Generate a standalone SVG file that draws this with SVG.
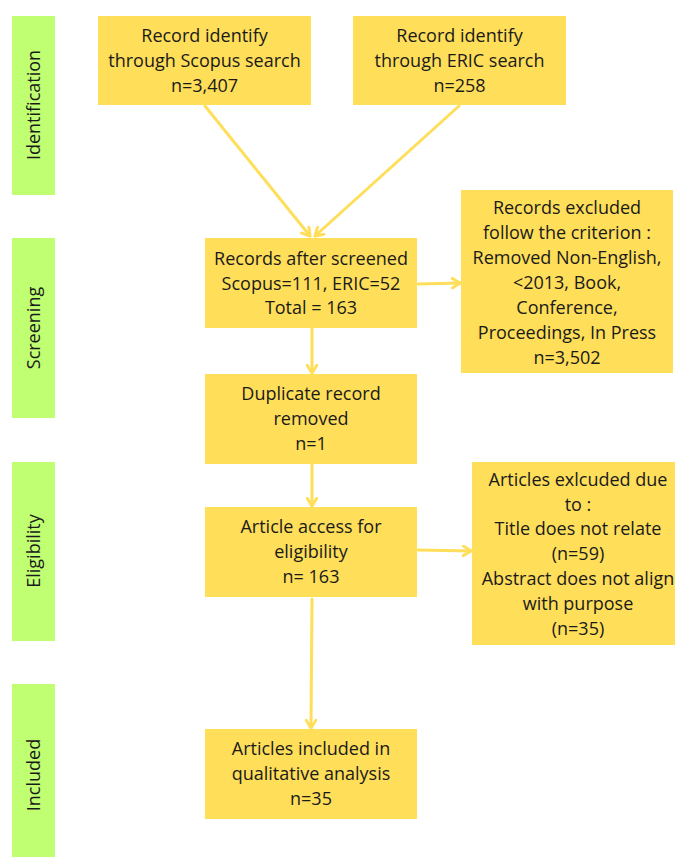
<svg xmlns="http://www.w3.org/2000/svg" width="675" height="857" viewBox="0 0 675 857">
<style>
.bar{fill:#C1FF72}
.box{fill:#FFDE59}
.t{font-family:"Open Sans","Liberation Sans",sans-serif;font-size:18px;fill:#1a1a1a;text-anchor:middle}
.c{stroke:#FFDE59;stroke-width:3;fill:none;stroke-linecap:round}
</style>
<defs>
<marker id="ah" viewBox="0 0 10 12" refX="9" refY="6" markerWidth="10" markerHeight="12" markerUnits="userSpaceOnUse" orient="auto">
<path d="M1,1 L9,6 L1,11" fill="none" stroke="#FFDE59" stroke-width="3" stroke-linecap="round" stroke-linejoin="round"/>
</marker>
</defs>
<rect width="675" height="857" fill="#ffffff"/>
<g id="stages">
<g id="stage-identification"><rect class="bar" x="12" y="16" width="43" height="179"/><text class="t" transform="translate(40,105) rotate(-90)">Identification</text></g>
<g id="stage-screening"><rect class="bar" x="12" y="238" width="43" height="180"/><text class="t" transform="translate(40,328) rotate(-90)">Screening</text></g>
<g id="stage-eligibility"><rect class="bar" x="12" y="462" width="43" height="179"/><text class="t" transform="translate(40,551) rotate(-90)">Eligibility</text></g>
<g id="stage-included"><rect class="bar" x="12" y="684" width="43" height="180"/><text class="t" transform="translate(40,775) rotate(-90)">Included</text></g>
</g>
<g id="connectors">
<line class="c" x1="205" y1="106" x2="310" y2="236" marker-end="url(#ah)"/>
<line class="c" x1="459" y1="106" x2="315" y2="236" marker-end="url(#ah)"/>
<line class="c" x1="418" y1="284" x2="460" y2="283" marker-end="url(#ah)"/>
<line class="c" x1="312" y1="329" x2="312" y2="373" marker-end="url(#ah)"/>
<line class="c" x1="312" y1="465" x2="312" y2="506" marker-end="url(#ah)"/>
<line class="c" x1="418" y1="550" x2="471" y2="551" marker-end="url(#ah)"/>
<line class="c" x1="312" y1="599" x2="311" y2="728" marker-end="url(#ah)"/>
</g>
<g id="node-scopus"><rect class="box" x="98" y="16" width="213" height="89"/>
<text class="t" x="204.5" y="41.5">Record identify</text><text class="t" x="204.5" y="66.5">through Scopus search</text><text class="t" x="204.5" y="91.5">n=3,407</text></g>
<g id="node-eric"><rect class="box" x="353" y="16" width="213" height="89"/>
<text class="t" x="459.5" y="41.5">Record identify</text><text class="t" x="459.5" y="66.5">through ERIC search</text><text class="t" x="459.5" y="91.5">n=258</text></g>
<g id="node-screened"><rect class="box" x="205" y="238" width="212" height="90"/>
<text class="t" x="311" y="264.5">Records after screened</text><text class="t" x="311" y="289.5">Scopus=111, ERIC=52</text><text class="t" x="311" y="313.5">Total = 163</text></g>
<g id="node-excluded1"><rect class="box" x="461" y="190" width="212" height="183"/>
<text class="t" x="567" y="213.5">Records excluded</text><text class="t" x="567" y="238.5">follow the criterion :</text><text class="t" x="567" y="263.5">Removed Non-English,</text><text class="t" x="567" y="288.5">&lt;2013, Book,</text><text class="t" x="567" y="313.5">Conference,</text><text class="t" x="567" y="338.5">Proceedings, In Press</text><text class="t" x="567" y="363.5">n=3,502</text></g>
<g id="node-duplicate"><rect class="box" x="205" y="374" width="212" height="90"/>
<text class="t" x="311" y="399.5">Duplicate record</text><text class="t" x="311" y="424.5">removed</text><text class="t" x="311" y="449.5">n=1</text></g>
<g id="node-access"><rect class="box" x="205" y="507" width="212" height="90"/>
<text class="t" x="311" y="532.5">Article access for</text><text class="t" x="311" y="557.5">eligibility</text><text class="t" x="311" y="582.5">n= 163</text></g>
<g id="node-excluded2"><rect class="box" x="472" y="462" width="215" height="183"/>
<text class="t" x="578" y="485.5">Articles exlcuded due</text><text class="t" x="578" y="510.5">to :</text><text class="t" x="578" y="534.5">Title does not relate</text><text class="t" x="578" y="559.5">(n=59)</text><text class="t" x="578" y="584.5">Abstract does not align</text><text class="t" x="578" y="609.5">with purpose</text><text class="t" x="578" y="634.5">(n=35)</text></g>
<g id="node-included"><rect class="box" x="205" y="729" width="212" height="90"/>
<text class="t" x="311" y="754.5">Articles included in</text><text class="t" x="311" y="779.5">qualitative analysis</text><text class="t" x="311" y="804.5">n=35</text></g>
</svg>
